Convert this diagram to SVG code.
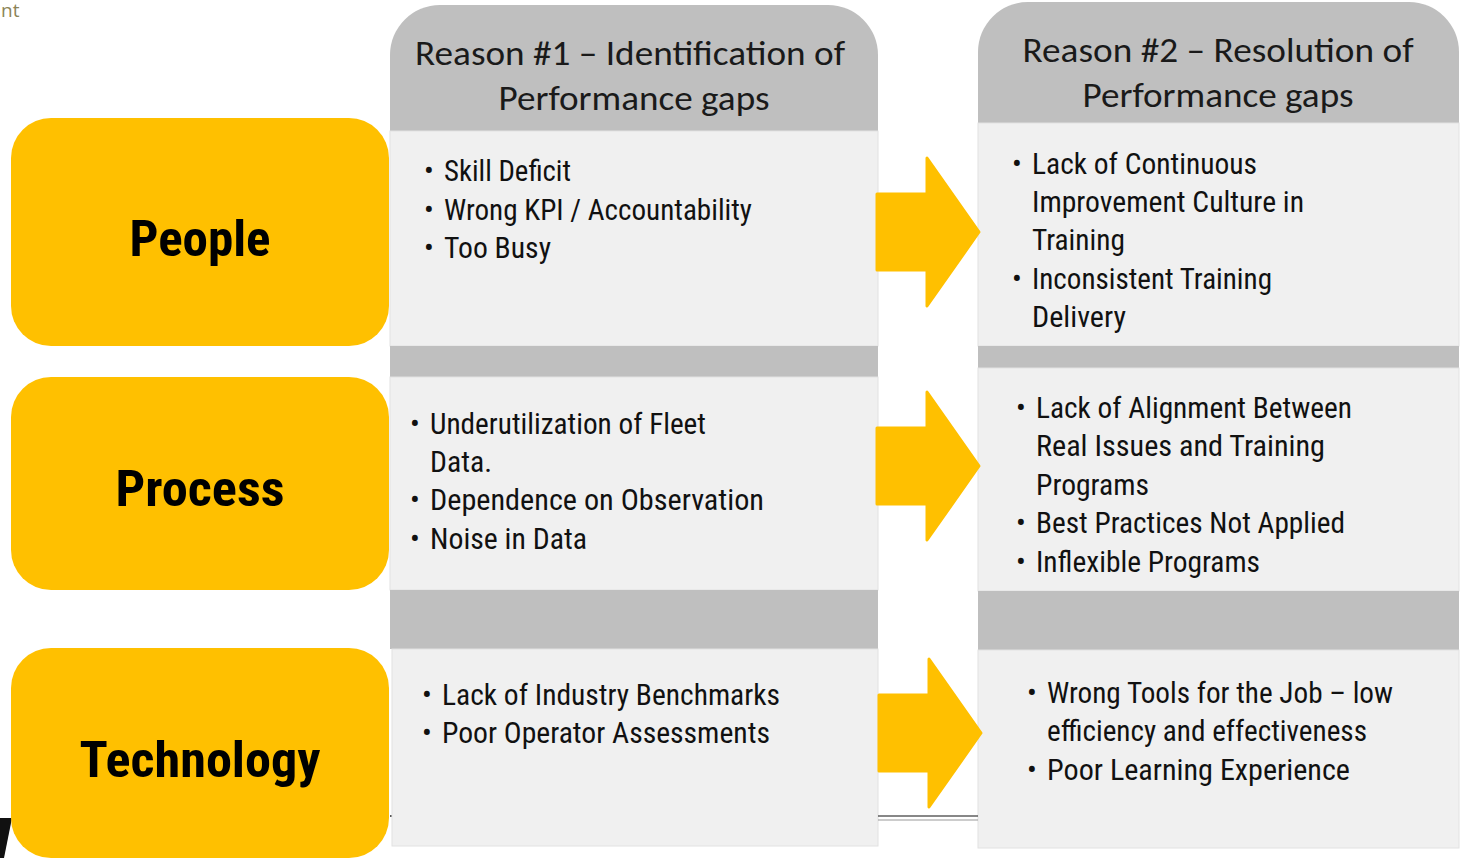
<svg xmlns="http://www.w3.org/2000/svg" width="1461" height="858" viewBox="0 0 1461 858">
<style>
.cat{fill:#FFC000}
.lbl{font-family:"Liberation Sans Narrow","Roboto Condensed","Liberation Sans",Arial,sans-serif;font-weight:bold;font-size:50px;fill:#000;text-anchor:middle}
.hdr{fill:#BFBFBF}
.hd{font-family:"Carlito","Open Sans","Noto Sans",sans-serif;font-size:34px;fill:#1a1a1a;text-anchor:middle}
.pan{fill:#F0F0F0;stroke:#E2E2E2;stroke-width:1}
.band{fill:#BFBFBF}
.it{font-family:"Liberation Sans Narrow","Roboto Condensed","Liberation Sans",Arial,sans-serif;font-size:29px;fill:#111}
.arw{fill:#FFC000}
</style>
<rect width="1461" height="858" fill="#fff"/>
<text x="1" y="17" font-family="Open Sans, sans-serif" font-size="19" fill="#8C8457">nt</text>
<polygon points="0,818 12,818 4,858 0,858" fill="#111"/>
<line x1="390" y1="816" x2="393" y2="816" stroke="#222" stroke-width="1.5"/>

<g id="col1">
<path class="hdr" d="M390,131 V55 A50,50 0 0 1 440,5 H828 A50,50 0 0 1 878,55 V131 Z"/>
<text class="hd" x="630" y="65" textLength="430" lengthAdjust="spacingAndGlyphs">Reason #1 – Identification of</text>
<text class="hd" x="634" y="110" textLength="271" lengthAdjust="spacingAndGlyphs">Performance gaps</text>
<rect class="pan" x="390" y="131" width="488" height="215"/>
<rect class="band" x="390" y="346" width="488" height="31"/>
<rect class="pan" x="390" y="377" width="488" height="213"/>
<rect class="band" x="390" y="590" width="488" height="59"/>
<rect class="pan" x="392" y="649" width="486" height="197"/>
</g>

<g id="col2">
<path class="hdr" d="M978,123 V52 A50,50 0 0 1 1028,2 H1409 A50,50 0 0 1 1459,52 V123 Z"/>
<text class="hd" x="1218" y="62" textLength="391" lengthAdjust="spacingAndGlyphs">Reason #2 – Resolution of</text>
<text class="hd" x="1218" y="107" textLength="271" lengthAdjust="spacingAndGlyphs">Performance gaps</text>
<rect class="pan" x="978" y="123" width="481" height="223"/>
<rect class="band" x="978" y="346" width="481" height="22"/>
<rect class="pan" x="978" y="368" width="481" height="223"/>
<rect class="band" x="978" y="591" width="481" height="59"/>
<rect class="pan" x="978" y="650" width="481" height="198"/>
</g>

<g id="people">
<rect class="cat" x="11" y="118" width="378" height="228" rx="40"/>
<text class="lbl" x="200" y="256" textLength="141" lengthAdjust="spacingAndGlyphs">People</text>
</g>
<g id="process">
<rect class="cat" x="11" y="377" width="378" height="213" rx="40"/>
<text class="lbl" x="200" y="506" textLength="169" lengthAdjust="spacingAndGlyphs">Process</text>
</g>
<g id="technology">
<rect class="cat" x="11" y="648" width="378" height="210" rx="40"/>
<text class="lbl" x="200" y="777" textLength="241" lengthAdjust="spacingAndGlyphs">Technology</text>
</g>

<g id="items1a" class="it">
<text x="424" y="181">•</text><text x="444" y="181" textLength="127" lengthAdjust="spacingAndGlyphs">Skill Deficit</text>
<text x="424" y="220">•</text><text x="444" y="220" textLength="308" lengthAdjust="spacingAndGlyphs">Wrong KPI / Accountability</text>
<text x="424" y="258">•</text><text x="444" y="258" textLength="107" lengthAdjust="spacingAndGlyphs">Too Busy</text>
</g>
<g id="items1b" class="it">
<text x="410" y="434">•</text><text x="430" y="434" textLength="276" lengthAdjust="spacingAndGlyphs">Underutilization of Fleet</text>
<text x="430" y="472" textLength="62" lengthAdjust="spacingAndGlyphs">Data.</text>
<text x="410" y="510">•</text><text x="430" y="510" textLength="334" lengthAdjust="spacingAndGlyphs">Dependence on Observation</text>
<text x="410" y="549">•</text><text x="430" y="549" textLength="157" lengthAdjust="spacingAndGlyphs">Noise in Data</text>
</g>
<g id="items1c" class="it">
<text x="422" y="705">•</text><text x="442" y="705" textLength="338" lengthAdjust="spacingAndGlyphs">Lack of Industry Benchmarks</text>
<text x="422" y="743">•</text><text x="442" y="743" textLength="328" lengthAdjust="spacingAndGlyphs">Poor Operator Assessments</text>
</g>
<g id="items2a" class="it">
<text x="1012" y="174">•</text><text x="1032" y="174" textLength="225" lengthAdjust="spacingAndGlyphs">Lack of Continuous</text>
<text x="1032" y="212" textLength="272" lengthAdjust="spacingAndGlyphs">Improvement Culture in</text>
<text x="1032" y="250" textLength="93" lengthAdjust="spacingAndGlyphs">Training</text>
<text x="1012" y="289">•</text><text x="1032" y="289" textLength="240" lengthAdjust="spacingAndGlyphs">Inconsistent Training</text>
<text x="1032" y="327" textLength="94" lengthAdjust="spacingAndGlyphs">Delivery</text>
</g>
<g id="items2b" class="it">
<text x="1016" y="418">•</text><text x="1036" y="418" textLength="316" lengthAdjust="spacingAndGlyphs">Lack of Alignment Between</text>
<text x="1036" y="456" textLength="289" lengthAdjust="spacingAndGlyphs">Real Issues and Training</text>
<text x="1036" y="495" textLength="113" lengthAdjust="spacingAndGlyphs">Programs</text>
<text x="1016" y="533">•</text><text x="1036" y="533" textLength="309" lengthAdjust="spacingAndGlyphs">Best Practices Not Applied</text>
<text x="1016" y="572">•</text><text x="1036" y="572" textLength="224" lengthAdjust="spacingAndGlyphs">Inflexible Programs</text>
</g>
<g id="items2c" class="it">
<text x="1027" y="703">•</text><text x="1047" y="703" textLength="346" lengthAdjust="spacingAndGlyphs">Wrong Tools for the Job – low</text>
<text x="1047" y="741" textLength="320" lengthAdjust="spacingAndGlyphs">efficiency and effectiveness</text>
<text x="1027" y="780">•</text><text x="1047" y="780" textLength="303" lengthAdjust="spacingAndGlyphs">Poor Learning Experience</text>
</g>

<g id="connectors">
<path class="arw" stroke="#FFC000" stroke-width="3" stroke-linejoin="round" d="M877,194 H927 V158 L979,232 L927,306 V270 H877 Z"/>
<path class="arw" stroke="#FFC000" stroke-width="3" stroke-linejoin="round" d="M877,428 H927 V392 L979,466 L927,540 V504 H877 Z"/>
<path class="arw" stroke="#FFC000" stroke-width="3" stroke-linejoin="round" d="M879,695 H929 V659 L981,733 L929,807 V771 H879 Z"/>
<line x1="878" y1="816" x2="978" y2="816" stroke="#111" stroke-width="1.2"/>
<line x1="878" y1="820" x2="978" y2="820" stroke="#999" stroke-width="1"/>
</g>
</svg>
